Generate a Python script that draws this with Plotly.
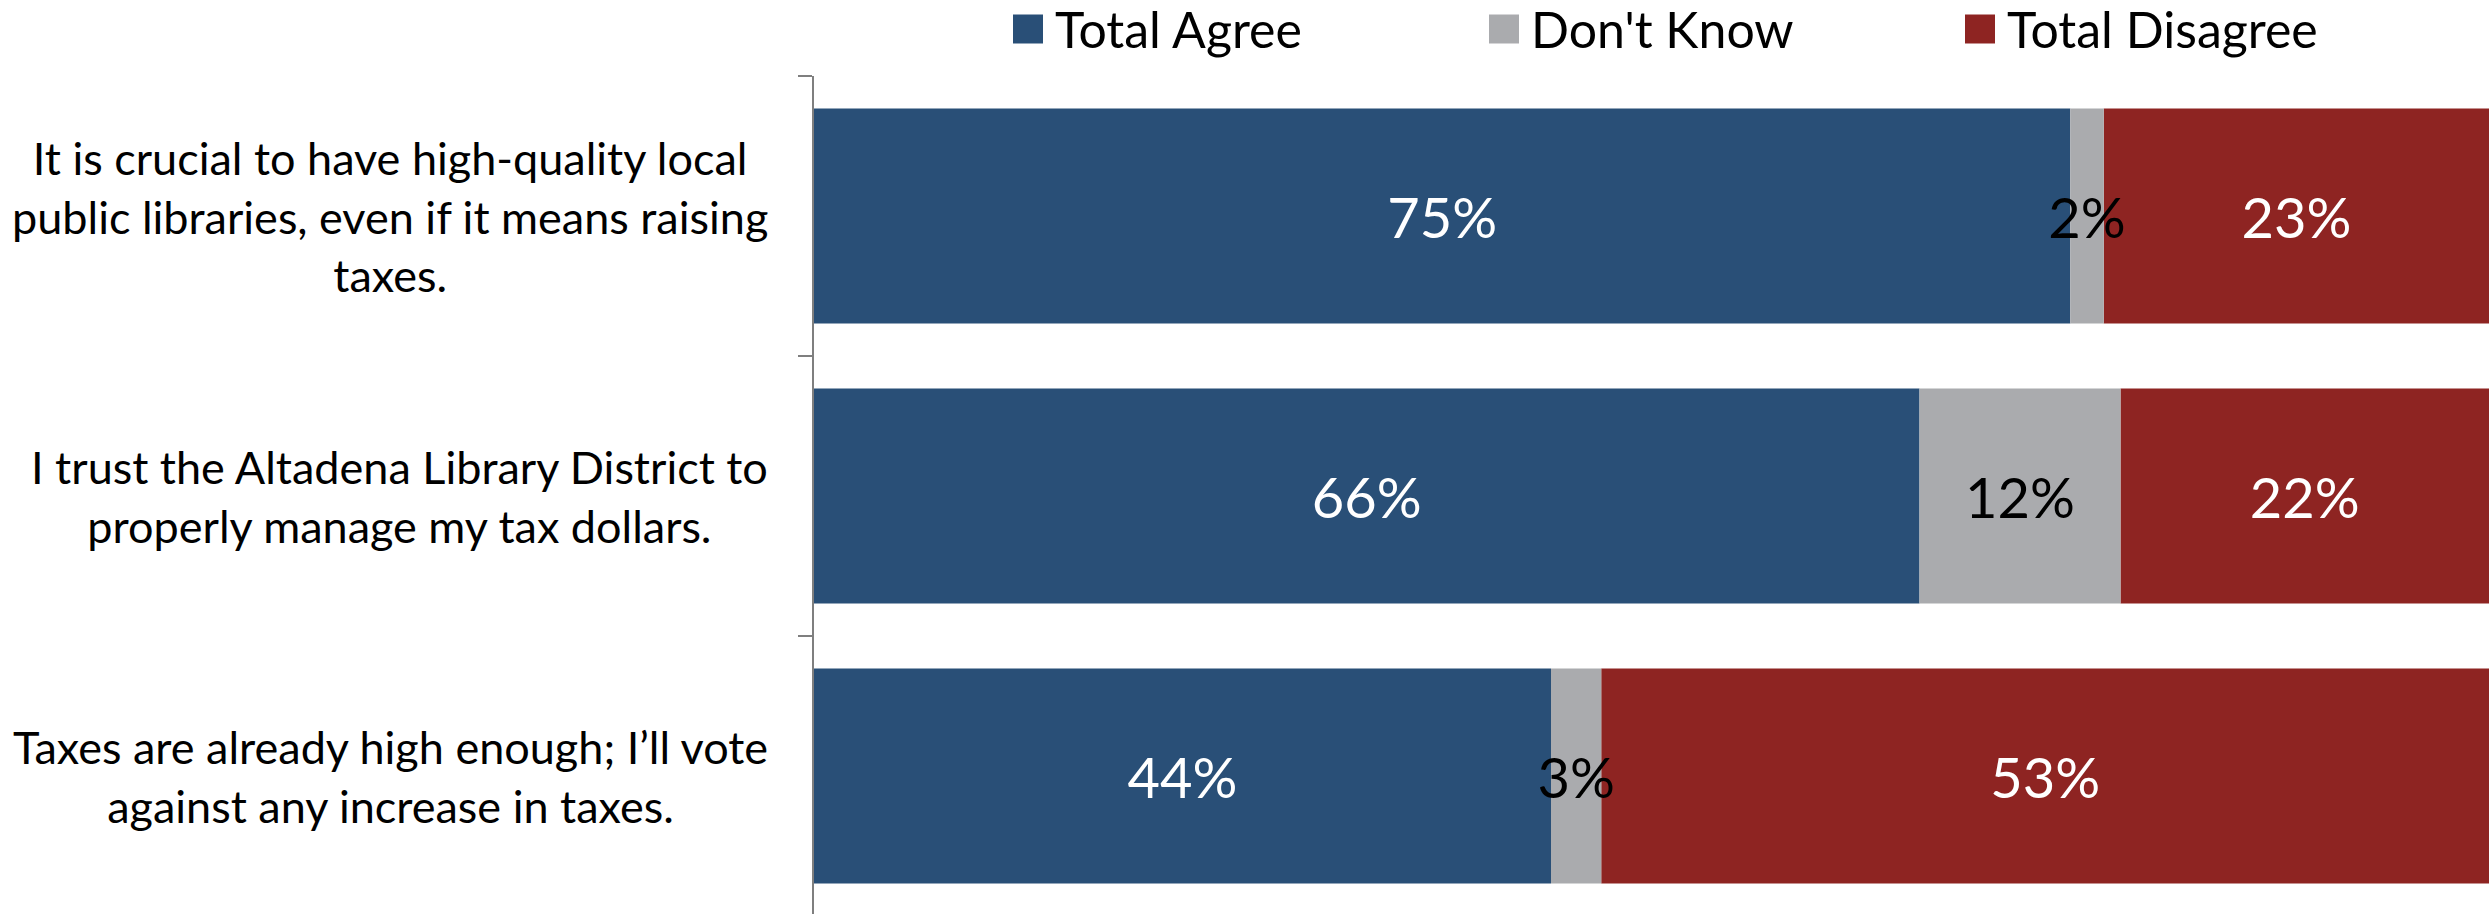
import plotly.graph_objects as go

# Survey statements (top to bottom) and response shares in percent
statements = [
    "It is crucial to have high-quality local<br>public libraries, even if it means raising<br>taxes.",
    "I trust the Altadena Library District to<br>properly manage my tax dollars.",
    "Taxes are already high enough; I\u2019ll vote<br>against any increase in taxes.",
]
series_names = ["Total Agree", "Don't Know", "Total Disagree"]
total_agree = [75, 66, 44]
dont_know = [2, 12, 3]
total_disagree = [23, 22, 53]

colors = ["#294F77", "#AAABAE", "#8E2422"]
text_colors = ["white", "black", "white"]
series_values = [total_agree, dont_know, total_disagree]

W, H = 2489, 914
M_L, M_T = 814, 76
plot_w = W - M_L
plot_h = H - M_T
band_px = 280.0

font_family = "Lato, 'Open Sans', sans-serif"

cat_ids = list(range(len(statements)))

# Segment start positions (cumulative shares along each bar)
bases = []
offsets = [0] * len(statements)
for vals in series_values:
    bases.append(list(offsets))
    offsets = [o + v for o, v in zip(offsets, vals)]

fig = go.Figure()
# Narrow middle segment is added last so its overflowing label stays on top
draw_order = [0, 2, 1]
for k in draw_order:
    vals = series_values[k]
    fig.add_trace(go.Bar(
        y=cat_ids,
        x=vals,
        base=bases[k],
        name=series_names[k],
        orientation="h",
        marker=dict(color=colors[k], line=dict(width=0)),
        text=[f"{v}%" for v in vals],
        textposition="inside",
        insidetextanchor="middle",
        textangle=0,
        constraintext="none",
        cliponaxis=False,
        textfont=dict(family=font_family, size=56, color=text_colors[k]),
        showlegend=False,
        hoverinfo="skip",
    ))

# Category labels, centred block right-aligned next to the axis
annotations = []
label_right_px = 770
for i, s in enumerate(statements):
    annotations.append(dict(
        x=(label_right_px - M_L) / plot_w, xref="paper", xanchor="right",
        y=i, yref="y", yanchor="middle",
        text=s, showarrow=False, align="center",
        font=dict(family=font_family, size=45, color="black"),
    ))

# Legend row across the top
shapes = []
legend_start_px = 1013
legend_step_px = 476
legend_y = 1 + (M_T - 29) / plot_h
for k, (name, col) in enumerate(zip(series_names, colors)):
    x0 = (legend_start_px + k * legend_step_px - M_L) / plot_w
    shapes.append(dict(
        type="rect", xref="paper", yref="paper",
        xsizemode="pixel", ysizemode="pixel",
        xanchor=x0, yanchor=legend_y,
        x0=0, x1=30, y0=-14.5, y1=14.5,
        fillcolor=col, line=dict(width=0),
    ))
    annotations.append(dict(
        x=x0 + 40 / plot_w, xref="paper", xanchor="left",
        y=legend_y, yref="paper", yanchor="middle",
        text=name, showarrow=False,
        font=dict(family=font_family, size=50, color="black"),
    ))

n = len(statements)
fig.update_layout(
    width=W, height=H,
    margin=dict(l=M_L, r=0, t=M_T, b=0, pad=0),
    barmode="overlay",
    bargap=1 - 215 / band_px,
    plot_bgcolor="white",
    paper_bgcolor="white",
    showlegend=False,
    annotations=annotations,
    shapes=shapes,
    xaxis=dict(range=[0, 100], visible=False, fixedrange=True),
    yaxis=dict(
        type="category",
        range=[n - 0.5 - (n * band_px - plot_h) / band_px, -0.5],
        showline=True, linecolor="#7F7F7F", linewidth=2,
        ticks="outside", tickson="boundaries", ticklen=14,
        tickcolor="#7F7F7F", tickwidth=2,
        showticklabels=False, showgrid=False, zeroline=False,
    ),
)

fig.write_html("out.html")
